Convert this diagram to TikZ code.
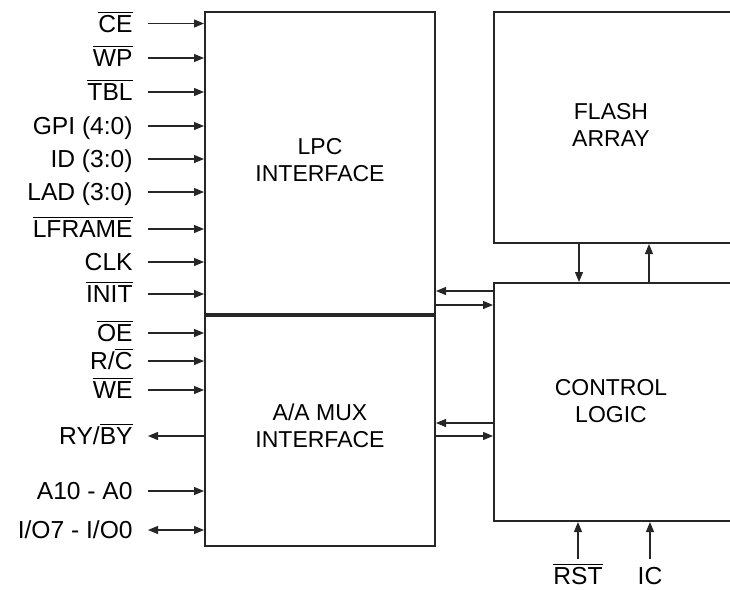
\documentclass[tikz,border=0pt]{standalone}
\usepackage{fontspec}
\setmainfont{Liberation Sans}
\usetikzlibrary{arrows.meta, positioning}
\newcommand{\nsig}[1]{$\overline{\mbox{#1}}$}

\tikzset{
    blk/.style={draw=black!85, line width=1pt},
    sig/.style={draw=black!85, line width=0.6pt, -{Triangle[length=5pt, width=4pt]}},
    bisig/.style={sig, {Triangle[length=5pt, width=4pt]}-{Triangle[length=5pt, width=4pt]}},
    pinlbl/.style={anchor=base east, inner sep=0pt, font=\fontsize{12.3}{14}\selectfont},
    boxtxt/.style={align=center, inner sep=0pt, font=\fontsize{11.5}{13.5}\selectfont}
}

\begin{document}
\begin{tikzpicture}[x=0.5pt, y=-0.5pt]
    \useasboundingbox (0,0) rectangle (730,590);
    \clip (0,0) rectangle (730,590);

    % LPC / A/A MUX block
    \node[blk, minimum width=115pt, minimum height=152pt, anchor=north west, inner sep=0pt] (lpc) at (204,10.5) {};
    \node[blk, minimum width=115pt, minimum height=115.5pt, anchor=north west, inner sep=0pt] (mux) at (204,314) {};
    \draw[line width=1.3pt, black!85] (mux.north west) -- (mux.north east);
    \node[boxtxt] (lpctxt) at (320,160) {LPC\\INTERFACE};
    \node[boxtxt] (muxtxt) at (320,426) {A/A MUX\\INTERFACE};

    % flash array and control logic (cut off at the right)
    \node[blk, minimum width=130pt, minimum height=115.5pt, anchor=north west, inner sep=0pt] (flash) at (493,11) {};
    \node[blk, minimum width=130pt, minimum height=119pt, anchor=north west, inner sep=0pt] (ctrl) at (493,282) {};
    \node[boxtxt] (flashtxt) at (611,125) {FLASH\\ARRAY};
    \node[boxtxt] (ctrltxt) at (611,401) {CONTROL\\LOGIC};

    % pins into the LPC side
    \coordinate (pce) at (148,23.5);
    \coordinate (pwp) at (148,58);
    \coordinate (ptbl) at (148,92);
    \coordinate (pgpi) at (148,126);
    \coordinate (pid) at (148,159);
    \coordinate (plad) at (148,192);
    \coordinate (plframe) at (148,229);
    \coordinate (pclk) at (148,262);
    \coordinate (pinit) at (148,294);
    \node[pinlbl] (lce) at (133,32) {\nsig{CE}};
    \node[pinlbl] (lwp) at (133,66.5) {\nsig{WP}};
    \node[pinlbl] (ltbl) at (133,100.5) {\nsig{TBL}};
    \node[pinlbl] (lgpi) at (133,134.5) {GPI (4:0)};
    \node[pinlbl] (lid) at (133,167.5) {ID (3:0)};
    \node[pinlbl] (llad) at (133,200.5) {LAD (3:0)};
    \node[pinlbl] (llframe) at (133,237.5) {\nsig{LFRAME}};
    \node[pinlbl] (lclk) at (133,270.5) {CLK};
    \node[pinlbl] (linit) at (133,302.5) {\nsig{INIT}};
    \draw[sig] (pce) -- (pce -| lpc.west);
    \draw[sig] (pwp) -- (pwp -| lpc.west);
    \draw[sig] (ptbl) -- (ptbl -| lpc.west);
    \draw[sig] (pgpi) -- (pgpi -| lpc.west);
    \draw[sig] (pid) -- (pid -| lpc.west);
    \draw[sig] (plad) -- (plad -| lpc.west);
    \draw[sig] (plframe) -- (plframe -| lpc.west);
    \draw[sig] (pclk) -- (pclk -| lpc.west);
    \draw[sig] (pinit) -- (pinit -| lpc.west);

    % pins on the A/A MUX side
    \coordinate (poe) at (148,333);
    \coordinate (prc) at (148,361);
    \coordinate (pwe) at (148,390);
    \coordinate (pry) at (148,436);
    \coordinate (paddr) at (148,491);
    \coordinate (pio) at (148,530);
    \node[pinlbl] (loe) at (133,341.5) {\nsig{OE}};
    \node[pinlbl] (lrc) at (133,369.5) {R/\nsig{C}};
    \node[pinlbl] (lwe) at (133,398.5) {\nsig{WE}};
    \node[pinlbl] (lry) at (133,444.5) {RY/\nsig{BY}};
    \node[pinlbl] (laddr) at (133,499.5) {A10 - A0};
    \node[pinlbl] (lio) at (133,538.5) {I/O7 - I/O0};
    \draw[sig] (poe) -- (poe -| mux.west);
    \draw[sig] (prc) -- (prc -| mux.west);
    \draw[sig] (pwe) -- (pwe -| mux.west);
    \draw[sig] (pry -| mux.west) -- (pry);
    \draw[sig] (paddr) -- (paddr -| mux.west);
    \draw[bisig] (pio) -- (pio -| mux.west);

    % LPC / MUX <-> control logic
    \draw[sig] (ctrl.west |- 0,291) -- (lpc.east |- 0,291);
    \draw[sig] (lpc.east |- 0,305) -- (ctrl.west |- 0,305);
    \draw[sig] (ctrl.west |- 0,423) -- (mux.east |- 0,423);
    \draw[sig] (mux.east |- 0,436) -- (ctrl.west |- 0,436);

    % flash <-> control logic
    \draw[sig] (flash.south -| 579,0) -- (ctrl.north -| 579,0);
    \draw[sig] (ctrl.north -| 649,0) -- (flash.south -| 649,0);

    % reset and IC
    \coordinate (prst) at (578,559);
    \coordinate (pic) at (650,559);
    \node[pinlbl, anchor=base] (lrst) at (578,584) {\nsig{RST}};
    \node[pinlbl, anchor=base] (lic) at (650,584) {IC};
    \draw[sig] (prst) -- (prst |- ctrl.south);
    \draw[sig] (pic) -- (pic |- ctrl.south);
\end{tikzpicture}
\end{document}
